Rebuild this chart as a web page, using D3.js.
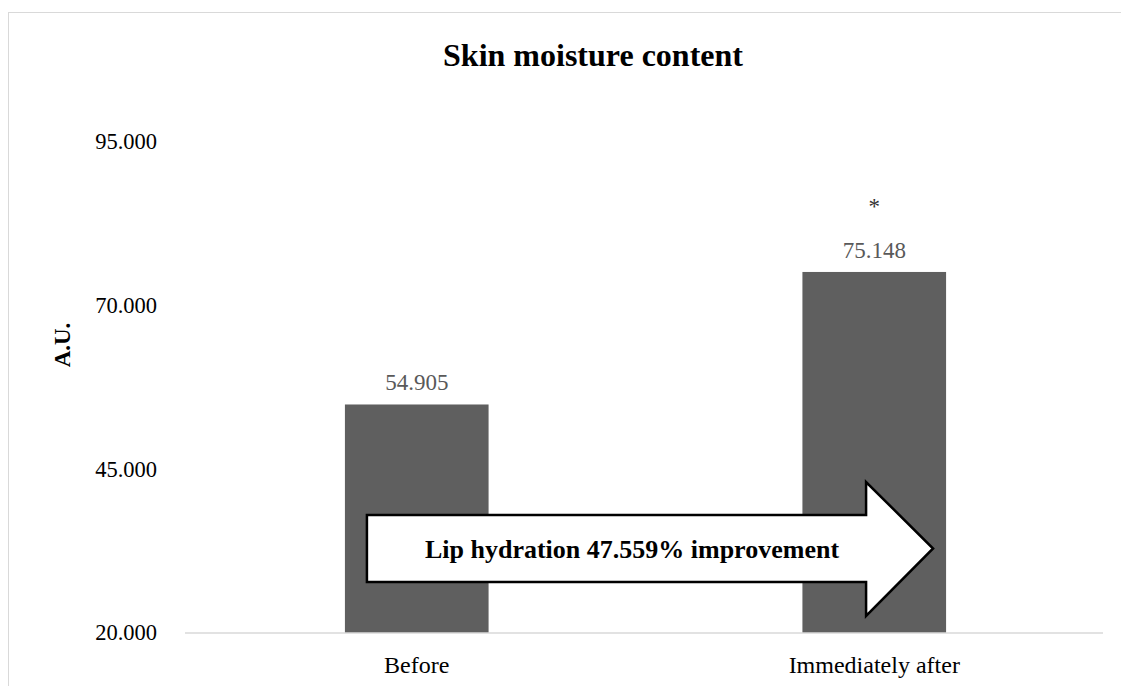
<!DOCTYPE html>
<html>
<head>
<meta charset="utf-8" />
<title>Skin moisture content</title>
<script src="https://cdn.jsdelivr.net/npm/d3@7"></script>
<style>
body { margin: 0; background: #fff; }
text { font-family: "Liberation Serif", "Times New Roman", serif; }
</style>
</head>
<body>
<div id="chart"></div>
<script>
const categories = ["Before", "Immediately after"];
const values = [54.905, 75.148];
const valueLabels = ["54.905", "75.148"];
const marks = ["", "*"];
const yTicks = [20, 45, 70, 95];
const arrowText = "Lip hydration 47.559% improvement";

const width = 1121, height = 686;
const margin = {top: 142, right: 18, bottom: 53, left: 185};

const svg = d3.select("#chart").append("svg")
	.attr("width", width)
	.attr("height", height);

// chart area border
svg.append("rect")
	.attr("x", 8.5).attr("y", 12.5)
	.attr("width", width).attr("height", height)
	.attr("fill", "#fff")
	.attr("stroke", "#d9d9d9");

const x = d3.scaleBand()
	.domain(categories)
	.range([margin.left + 3, width - margin.right])
	.paddingInner(0.686)
	.paddingOuter(0.343);

const y = d3.scaleLinear()
	.domain([20, 95])
	.range([height - margin.bottom, margin.top]);

svg.append("text")
	.attr("x", 593).attr("y", 66)
	.attr("text-anchor", "middle")
	.attr("font-size", 32)
	.attr("font-weight", "bold")
	.text("Skin moisture content");

// y axis labels
const yAxis = svg.append("g")
	.attr("transform", "translate(" + (margin.left - 28) + ",0)")
	.call(d3.axisLeft(y).tickValues(yTicks).tickFormat(d3.format(".3f")).tickSize(0).tickPadding(0));
yAxis.select(".domain").remove();
yAxis.selectAll("text")
	.attr("font-family", "Liberation Serif")
	.attr("font-size", 22.5)
	.attr("fill", "#000")
	.attr("dy", "0.3em");

svg.append("text")
	.attr("transform", "translate(70," + 345 + ") rotate(-90)")
	.attr("text-anchor", "middle")
	.attr("font-size", 23)
	.attr("font-weight", "bold")
	.text("A.U.");

// bars
svg.append("g").selectAll("rect")
	.data(values)
	.join("rect")
	.attr("x", (d, i) => x(categories[i]))
	.attr("y", d => y(d))
	.attr("width", x.bandwidth())
	.attr("height", d => y(20) - y(d))
	.attr("fill", "#5f5f5f");

// x axis
const xAxis = svg.append("g")
	.attr("transform", "translate(0," + y(20) + ")")
	.call(d3.axisBottom(x).tickSize(0).tickPadding(23));
xAxis.select(".domain")
	.attr("stroke", "#d9d9d9")
	.attr("stroke-width", 1.5)
	.attr("d", "M" + margin.left + ",0H" + (width - margin.right));
xAxis.selectAll("text")
	.attr("font-family", "Liberation Serif")
	.attr("font-size", 24)
	.attr("fill", "#000");

// value labels
svg.append("g").selectAll("text")
	.data(values)
	.join("text")
	.attr("x", (d, i) => x(categories[i]) + x.bandwidth() / 2)
	.attr("y", d => y(d) - 14)
	.attr("text-anchor", "middle")
	.attr("font-size", 23)
	.attr("fill", "#595959")
	.text((d, i) => valueLabels[i]);

svg.append("g").selectAll("text")
	.data(values)
	.join("text")
	.attr("x", (d, i) => x(categories[i]) + x.bandwidth() / 2)
	.attr("y", d => y(d) - 58)
	.attr("text-anchor", "middle")
	.attr("font-size", 23)
	.attr("fill", "#333")
	.text((d, i) => marks[i]);

// improvement arrow
const ax0 = x(categories[0]) + 22, ax1 = x(categories[1]) + x.bandwidth() - 13;
const headX = ax1 - 67;
const bodyTop = 515, bodyBot = 582, headTop = 482, headBot = 616, midY = (bodyTop + bodyBot) / 2;
svg.append("path")
	.attr("d", d3.line()([[ax0, bodyTop], [headX, bodyTop], [headX, headTop], [ax1, midY],
		[headX, headBot], [headX, bodyBot], [ax0, bodyBot]]) + "Z")
	.attr("fill", "#fff")
	.attr("stroke", "#000")
	.attr("stroke-width", 2.5);

svg.append("text")
	.attr("x", 632).attr("y", midY)
	.attr("dy", "0.35em")
	.attr("text-anchor", "middle")
	.attr("font-size", 26)
	.attr("font-weight", "bold")
	.text(arrowText);
</script>
</body>
</html>
